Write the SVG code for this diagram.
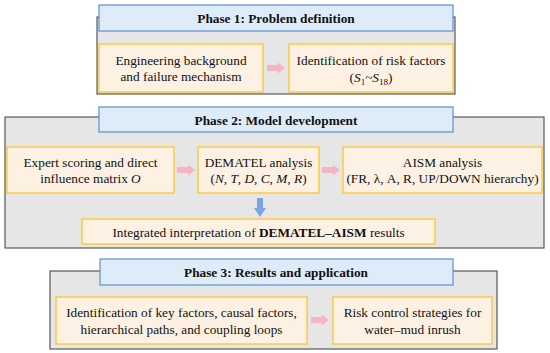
<svg xmlns="http://www.w3.org/2000/svg" width="550" height="353" viewBox="0 0 550 353">
<defs>
<style>
.outer{fill:#e6e6e6;stroke:#595959;stroke-width:1.2}
.head{fill:#deebf8;stroke:#5b8fd4;stroke-width:1.2}
.box{fill:#fdf1e4;stroke:#ffc31a;stroke-width:1.2}
text{font-family:"Liberation Serif","Times New Roman",serif;font-size:13.3px;fill:#111;text-anchor:middle}
.b{font-weight:bold}
.i{font-style:italic}
.pink{fill:#f7b4c2}
.blue{fill:#79a6e2}
</style>
<path id="pa" d="M0,-3 H11 V-5.5 L18,0 L11,5.5 V3 H0 Z"/>
</defs>
<rect width="550" height="353" fill="#fff"/>
<g id="phase1">
<rect class="outer" x="97" y="17" width="358" height="77"/>
<rect class="head" x="99" y="5" width="354" height="26"/>
<text class="b" x="276" y="23">Phase 1: Problem definition</text>
</g>
<g id="n_engineering">
<rect class="box" x="99" y="44" width="164" height="48"/>
<text x="181" y="65">Engineering background</text>
<text x="181" y="81">and failure mechanism</text>
</g>
<g id="n_identification">
<rect class="box" x="289" y="44" width="164" height="48"/>
<text x="371" y="65">Identification of risk factors</text>
<text x="371" y="82">(<tspan class="i">S</tspan><tspan font-size="9" dy="3">1</tspan><tspan dy="-3">~</tspan><tspan class="i">S</tspan><tspan font-size="9" dy="3">18</tspan><tspan dy="-3">)</tspan></text>
</g>
<g id="phase2">
<rect class="outer" x="5" y="117" width="539" height="131"/>
<rect class="head" x="99" y="107" width="354" height="25"/>
<text class="b" x="276" y="125">Phase 2: Model development</text>
</g>
<g id="n_expert">
<rect class="box" x="7" y="147" width="167" height="46"/>
<text x="90.5" y="167">Expert scoring and direct</text>
<text x="90.5" y="183">influence matrix <tspan class="i">O</tspan></text>
</g>
<g id="n_dematel">
<rect class="box" x="198" y="147" width="121" height="46"/>
<text x="258.5" y="167">DEMATEL analysis</text>
<text x="258.5" y="183">(<tspan class="i">N</tspan>, <tspan class="i">T</tspan>, <tspan class="i">D</tspan>, <tspan class="i">C</tspan>, <tspan class="i">M</tspan>, <tspan class="i">R</tspan>)</text>
</g>
<g id="n_aism">
<rect class="box" x="343" y="147" width="199" height="46"/>
<text x="442.5" y="167">AISM analysis</text>
<text x="442.5" y="183">(FR, λ, A, R, UP/DOWN hierarchy)</text>
</g>
<g id="n_integrated">
<rect class="box" x="82" y="219" width="353" height="25"/>
<text x="258.5" y="237">Integrated interpretation of <tspan class="b">DEMATEL–AISM</tspan> results</text>
</g>
<g id="phase3">
<rect class="outer" x="50" y="271" width="447" height="78"/>
<rect class="head" x="100" y="259" width="353" height="26"/>
<text class="b" x="276" y="277">Phase 3: Results and application</text>
</g>
<g id="n_keyfactors">
<rect class="box" x="56" y="297" width="251" height="47"/>
<text x="181.5" y="317">Identification of key factors, causal factors,</text>
<text x="181.5" y="334">hierarchical paths, and coupling loops</text>
</g>
<g id="n_risk">
<rect class="box" x="333" y="297" width="159" height="47"/>
<text x="412.5" y="317">Risk control strategies for</text>
<text x="412.5" y="334">water–mud inrush</text>
</g>
<g id="connectors">
<use href="#pa" class="pink" transform="translate(267,68)"/>
<use href="#pa" class="pink" transform="translate(177,170)"/>
<use href="#pa" class="pink" transform="translate(322,170)"/>
<use href="#pa" class="pink" transform="translate(311,320)"/>
<path class="blue" d="M257,198 H263 V208 H266 L260,217 L254,208 H257 Z"/>
</g>
</svg>
